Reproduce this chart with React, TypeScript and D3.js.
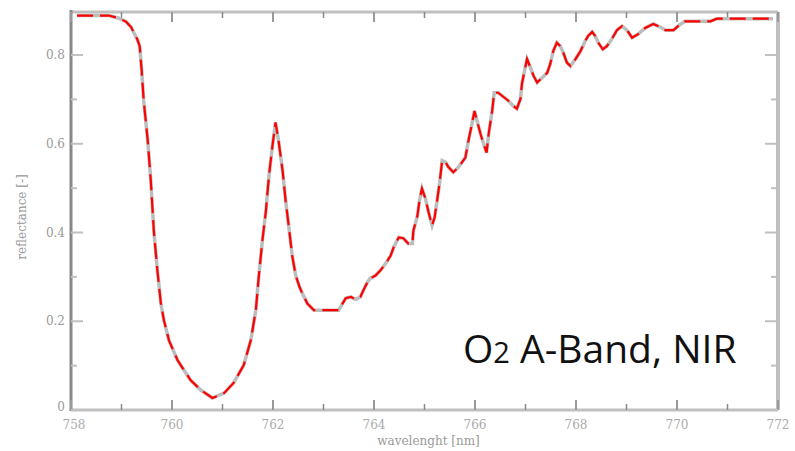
import React from 'react';
import * as d3 from 'd3';

// spectrum
const wavelength = [
  758.12, 758.4, 758.75, 758.95, 759.09, 759.19, 759.25, 759.31, 759.36, 759.4,
  759.44, 759.52, 759.58, 759.64, 759.71, 759.78, 759.84, 759.94, 760.11, 760.37,
  760.57, 760.8, 761.03, 761.22, 761.42, 761.56, 761.66, 761.72, 761.79, 761.86,
  761.92, 761.99, 762.05, 762.11, 762.19, 762.25, 762.31, 762.38, 762.45, 762.53,
  762.58, 762.68, 762.81, 763.3, 763.44, 763.54, 763.64, 763.73, 763.79, 763.87,
  763.93, 764.03, 764.13, 764.23, 764.33, 764.39, 764.49, 764.58, 764.68, 764.76,
  764.78, 764.86, 764.9, 764.95, 765.02, 765.08, 765.15, 765.2, 765.25, 765.3,
  765.35, 765.42, 765.47, 765.57, 765.67, 765.81, 765.87, 765.94, 765.99, 766.04,
  766.11, 766.17, 766.23, 766.27, 766.34, 766.38, 766.46, 766.56, 766.66, 766.76,
  766.83, 766.9, 766.93, 766.98, 767.03, 767.1, 767.16, 767.23, 767.33, 767.43,
  767.49, 767.55, 767.62, 767.69, 767.75, 767.82, 767.89, 767.99, 768.09, 768.18,
  768.24, 768.32, 768.38, 768.44, 768.53, 768.61, 768.71, 768.81, 768.91, 769.01,
  769.11, 769.23, 769.37, 769.53, 769.67, 769.77, 769.93, 770.06, 770.16, 770.36,
  770.66, 770.79, 771.21, 771.8, 771.9,
];
const reflectance = [
  0.889, 0.889, 0.889, 0.883, 0.875, 0.863, 0.849, 0.836, 0.82, 0.764,
  0.697, 0.607, 0.517, 0.404, 0.315, 0.24, 0.202, 0.157, 0.112, 0.067,
  0.045, 0.027, 0.038, 0.061, 0.101, 0.157, 0.225, 0.303, 0.382, 0.449,
  0.528, 0.596, 0.648, 0.607, 0.539, 0.472, 0.416, 0.348, 0.303, 0.276,
  0.263, 0.24, 0.225, 0.225, 0.252, 0.255, 0.249, 0.255, 0.27, 0.288,
  0.297, 0.303, 0.315, 0.33, 0.348, 0.367, 0.389, 0.387, 0.375, 0.375,
  0.404, 0.438, 0.472, 0.499, 0.476, 0.446, 0.416, 0.434, 0.472, 0.513,
  0.562, 0.558, 0.548, 0.536, 0.547, 0.569, 0.607, 0.645, 0.674, 0.652,
  0.622, 0.6, 0.58, 0.622, 0.674, 0.715, 0.715, 0.706, 0.697, 0.685,
  0.679, 0.701, 0.735, 0.764, 0.791, 0.771, 0.753, 0.738, 0.749, 0.76,
  0.78, 0.809, 0.828, 0.82, 0.805, 0.783, 0.775, 0.791, 0.809, 0.831,
  0.843, 0.852, 0.843, 0.828, 0.813, 0.82, 0.836, 0.856, 0.865, 0.856,
  0.839, 0.847, 0.861, 0.87, 0.863, 0.856, 0.856, 0.869, 0.876, 0.876,
  0.876, 0.882, 0.882, 0.882, 0.882,
];

const xTicks = [758, 760, 762, 764, 766, 768, 770, 772];
const xMinor = [759, 761, 763, 765, 767, 769, 771];
const yTicks = [0, 0.2, 0.4, 0.6, 0.8];
const yMinor = [0.1, 0.3, 0.5, 0.7];

const W = 795;
const H = 451;
const left = 71, right = 778, top = 12, bottom = 410;

export default function App() {
  const x = d3.scaleLinear().domain([758, 772]).range([left, right]);
  const y = d3.scaleLinear().domain([0, 0.897]).range([bottom, top]);

  const pts: [number, number][] = wavelength.map((w, i) => [w, reflectance[i]]);
  const line = d3
    .line<[number, number]>()
    .x(d => x(d[0]))
    .y(d => y(d[1]))
    .curve(d3.curveLinear);
  const path = line(pts) || '';

  const labelFont = '"DejaVu Serif", serif';

  return (
    <svg
      width={W}
      height={H}
      style={{ position: 'absolute', left: 0, top: 0, background: '#fff' }}
    >
      {/* frame */}
      <line x1={left} x2={right} y1={top} y2={top} stroke="#c0c0c0" strokeWidth={3} />
      <line x1={left} x2={right} y1={bottom} y2={bottom} stroke="#c0c0c0" strokeWidth={3} />
      <line x1={right} x2={right} y1={top} y2={bottom} stroke="#c0c0c0" strokeWidth={4} />
      <line x1={left} x2={left} y1={top - 2} y2={bottom + 1} stroke="#888" strokeWidth={3} />

      {/* x ticks top and bottom */}
      {xTicks.map(t => (
        <g key={'xt' + t}>
          <line x1={x(t)} x2={x(t)} y1={bottom} y2={bottom - 10} stroke="#999" strokeWidth={2} />
          <line x1={x(t)} x2={x(t)} y1={top} y2={top + 10} stroke="#999" strokeWidth={2} />
          <text
            x={x(t) + (t === 758 ? 3 : 0)}
            y={429}
            textAnchor="middle"
            fontFamily={labelFont}
            fontSize={12}
            fill="#aaa"
          >
            {t}
          </text>
        </g>
      ))}
      {xMinor.map(t => (
        <g key={'xm' + t}>
          <line x1={x(t)} x2={x(t)} y1={bottom} y2={bottom - 6} stroke="#888" strokeWidth={1.5} />
          <line x1={x(t)} x2={x(t)} y1={top} y2={top + 6} stroke="#888" strokeWidth={1.5} />
        </g>
      ))}

      {/* y ticks left and right */}
      {yTicks.map(t => (
        <g key={'yt' + t}>
          <line x1={left} x2={left + 12} y1={y(t)} y2={y(t)} stroke="#c0c0c0" strokeWidth={2} />
          <line x1={right} x2={right - 13} y1={y(t)} y2={y(t)} stroke="#c0c0c0" strokeWidth={2} />
          <text
            x={65}
            y={t === 0 ? y(t) + 1 : y(t) + 4}
            textAnchor="end"
            fontFamily={labelFont}
            fontSize={12}
            fill="#999"
          >
            {t === 0 ? '0' : t.toFixed(1)}
          </text>
        </g>
      ))}
      {yMinor.map(t => (
        <g key={'ym' + t}>
          <line x1={left} x2={left + 6} y1={y(t)} y2={y(t)} stroke="#c0c0c0" strokeWidth={2} />
          <line x1={right} x2={right - 7} y1={y(t)} y2={y(t)} stroke="#c0c0c0" strokeWidth={2} />
        </g>
      ))}

      {/* axis titles */}
      <text
        x={(left + right) / 2 + 4}
        y={445}
        textAnchor="middle"
        fontFamily={labelFont}
        fontSize={12}
        fill="#999"
      >
        wavelenght [nm]
      </text>
      <text
        transform={`translate(26, ${(top + bottom) / 2 + 6}) rotate(-90)`}
        textAnchor="middle"
        fontFamily={labelFont}
        fontSize={12}
        fill="#999"
      >
        reflectance [-]
      </text>

      {/* spectrum: grey base with red dashes on top */}
      <path d={path} fill="none" stroke="#bdbdbd" strokeWidth={3.5} />
      <path d={path} fill="none" stroke="#ff0000" strokeWidth={2.2} strokeDasharray="16 7" />

      <text
        x={463}
        y={363}
        fontFamily='"Open Sans", sans-serif'
        fontSize={39}
        fill="#111"
      >
        O<tspan fontSize={29}>2</tspan> A-Band, NIR
      </text>
    </svg>
  );
}
